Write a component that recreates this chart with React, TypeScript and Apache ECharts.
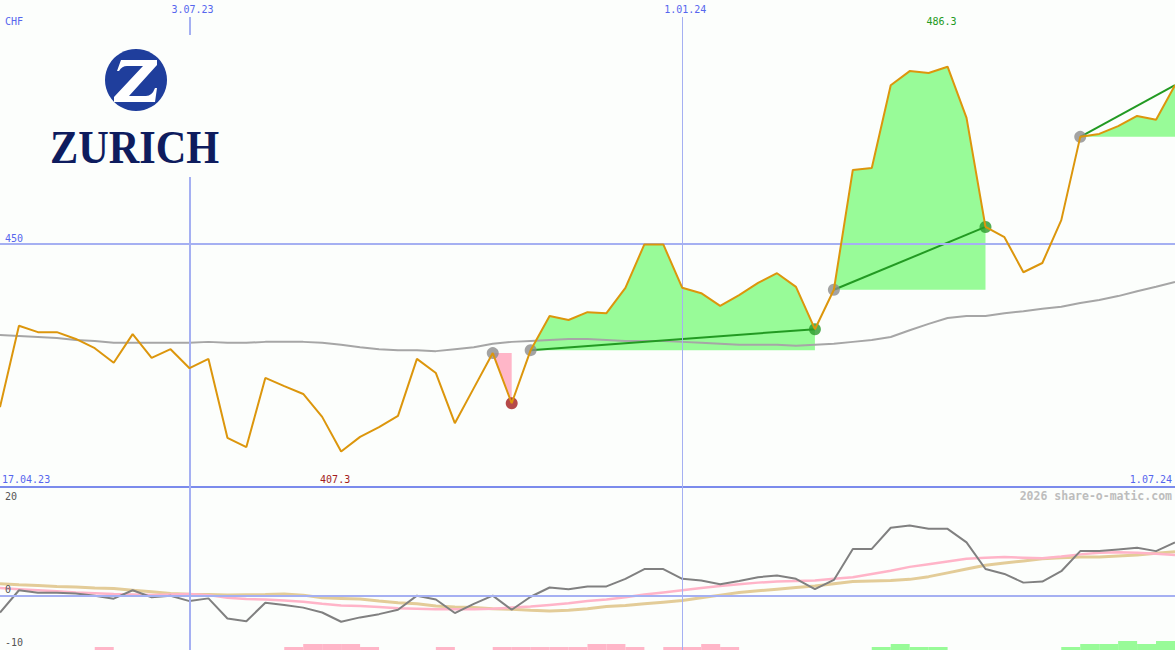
import React, { useEffect, useRef } from 'react';
import * as echarts from 'echarts';

// ---------- data ----------
const tickIndex = [10, 36];
const tickLabels = ['3.07.23', '1.01.24'];
const startLabel = '17.04.23';
const endLabel = '1.07.24';
const currency = 'CHF';
const priceLevel = 450;
const lowerTicks = [20, 0, -10];
const copyright = '2026 share-o-matic.com';

const price = [
  416.4, 433.1, 431.8, 431.8, 430.4, 428.5, 425.5, 431.4, 426.5, 428.3,
  424.4, 426.3, 410.1, 408.2, 422.4, 420.7, 419.1, 414.4, 407.3, 410.3,
  412.3, 414.6, 426.3, 423.4, 413.1, 420.3, 427.5, 417.2, 428.1, 435.1,
  434.3, 435.9, 435.7, 440.9, 449.8, 449.8, 440.9, 439.8, 437.2, 439.4,
  441.9, 443.9, 441.1, 432.4, 440.5, 465.1, 465.5, 482.5, 485.4, 485.0,
  486.3, 475.8, 453.4, 451.3, 444.1, 446.0, 454.8, 471.9, 472.5, 474.1,
  476.2, 475.4, 482.5,
];

const movingAvg = [
  431.2, 431.0, 430.8, 430.6, 430.2, 430.0, 429.6, 429.6, 429.6, 429.6,
  429.6, 429.8, 429.6, 429.6, 429.8, 429.8, 429.8, 429.6, 429.2, 428.7,
  428.3, 428.1, 428.1, 427.9, 428.3, 428.7, 429.4, 429.8, 430.0, 430.2,
  430.4, 430.4, 430.2, 430.0, 430.0, 430.0, 429.8, 429.6, 429.4, 429.2,
  429.2, 429.2, 429.0, 429.2, 429.4, 429.8, 430.2, 430.8, 432.2, 433.5,
  434.7, 435.1, 435.1, 435.7, 436.1, 436.6, 437.0, 437.8, 438.4, 439.2,
  440.2, 441.1, 442.1,
];

const momentum = [
  -3.1, 1.0, 0.55, 0.55, 0.4, 0.0, -0.55, 1.0, -0.3, 0.0,
  -1.0, -0.5, -4.2, -4.7, -1.3, -1.7, -2.2, -3.1, -4.8, -4.0,
  -3.4, -2.6, 0.0, -0.7, -3.2, -1.5, 0.0, -2.6, -0.2, 1.5,
  1.2, 1.7, 1.7, 3.1, 4.9, 4.9, 3.1, 2.8, 2.1, 2.7,
  3.4, 3.7, 3.1, 1.2, 2.9, 8.6, 8.6, 12.5, 12.9, 12.3,
  12.3, 9.8, 4.9, 4.0, 2.4, 2.6, 4.5, 8.2, 8.2, 8.5,
  8.8, 8.2, 9.8,
];

const signalLine = [
  1.4, 1.2, 1.0, 0.8, 0.6, 0.45, 0.3, 0.2, 0.1, 0.2,
  0.3, 0.1, -0.4, -0.6, -0.7, -0.9, -1.1, -1.5, -1.8, -1.9,
  -2.1, -2.3, -2.4, -2.5, -2.5, -2.5, -2.4, -2.2, -2.0, -1.7,
  -1.4, -1.0, -0.7, -0.3, 0.2, 0.6, 1.0, 1.4, 1.8, 2.1,
  2.4, 2.6, 2.7, 2.8, 3.1, 3.4, 4.0, 4.6, 5.3, 5.8,
  6.3, 6.8, 7.0, 7.1, 7.0, 6.9, 7.2, 7.6, 7.9, 8.0,
  7.9, 7.7, 7.5,
];

const slowLine = [
  2.2, 2.0, 1.85, 1.7, 1.6, 1.4, 1.3, 1.0, 0.7, 0.4,
  0.25, 0.2, 0.1, 0.15, 0.2, 0.3, 0.1, -0.4, -0.5, -0.6,
  -1.0, -1.3, -1.5, -1.9, -2.1, -2.2, -2.4, -2.5, -2.7, -2.8,
  -2.7, -2.4, -2.0, -1.8, -1.5, -1.2, -0.9, -0.4, 0.1, 0.6,
  0.9, 1.2, 1.5, 1.8, 2.2, 2.6, 2.7, 2.8, 3.0, 3.5,
  4.2, 4.9, 5.6, 6.0, 6.4, 6.8, 7.0, 7.1, 7.1, 7.3,
  7.5, 7.8, 8.1,
];

// histogram levels per weekly interval (negative = pink, positive = green)
const histogram = [
  0, 0, 0, 0, 0, -1, 0, 0, 0, 0,
  0, 0, 0, 0, 0, -1, -2, -2, -2, -1,
  0, 0, 0, -1, 0, 0, -1, -1, -1, -1,
  -1, -2, -2, -1, 0, -1, -1, -2, -1, 0,
  0, 0, 0, 0, 0, 0, 1, 2, 1, 1,
  0, 0, 0, 0, 0, 0, 1, 2, 2, 3,
  2, 3, 0,
];

const signalStart = [26, 28, 44, 57];
const signalEnd = [27, 43, 52, 62];
const signalKind = ['sell', 'buy', 'buy', 'buy'];
const signalClosed = [true, true, true, false];

// ---------- styles ----------
const BG = '#fcfefc';
const GRID = '#a5b0f2';
const AXIS = '#7b8bec';
const LABEL_BLUE = '#5666ee';
const ORANGE = '#dc960c';
const MA_GRAY = '#a6a6a6';
const GREEN_FILL = '#98fb98';
const PINK_FILL = '#ffb6c8';
const GREEN_LINE = '#229a22';
const DOT_GRAY = '#8c8c8c';
const DOT_RED = '#a31c1c';
const DOT_GREEN = '#2a9a2a';
const MONO = 'DejaVu Sans Mono';

const zPath =
  'M 7 0 L 43 0 L 43 5 L 15 36 L 32 36 Q 38 36 41 28 L 43 28 L 41 42 L 0 42 L 0 37 L 29 6 L 13 6 Q 8 6 5 11 L 3 11 Z';
echarts.graphic.registerShape('zlogo', echarts.graphic.extendPath(zPath, {}) as any);

export default function App() {
  const ref = useRef<HTMLDivElement>(null);

  useEffect(() => {
    document.body.style.margin = '0';
    const chart = echarts.init(ref.current!, null, { renderer: 'svg' });
    const N = price.length;
    const series: any[] = [];

    // grid lines (main)
    series.push({
      type: 'line', xAxisIndex: 0, yAxisIndex: 0, data: [], z: 1, silent: true,
      markLine: {
        silent: true, symbol: ['none', 'none'], label: { show: false },
        lineStyle: { type: 'solid', color: GRID, width: 2 },
        data: [
          { yAxis: priceLevel, lineStyle: { color: GRID, width: 2, type: 'solid' } },
          [{ coord: [tickIndex[0], 496.5], lineStyle: { color: GRID, width: 2, type: 'solid' } }, { coord: [tickIndex[0], 400] }],
          [{ coord: [tickIndex[1], 496.5], lineStyle: { color: GRID, width: 1, type: 'solid' } }, { coord: [tickIndex[1], 400] }],
        ],
      },
    });
    // grid lines (lower)
    series.push({
      type: 'line', xAxisIndex: 1, yAxisIndex: 1, data: [], z: 1, silent: true,
      markLine: {
        silent: true, symbol: ['none', 'none'], label: { show: false },
        lineStyle: { type: 'solid', color: GRID, width: 2 },
        data: [
          { yAxis: 0, lineStyle: { color: GRID, width: 2, type: 'solid' } },
          { xAxis: tickIndex[0], lineStyle: { color: GRID, width: 2, type: 'solid' } },
          { xAxis: tickIndex[1], lineStyle: { color: GRID, width: 1, type: 'solid' } },
        ],
      },
    });

    // signal fills: area between price and the price at signal start
    signalStart.forEach((s, k) => {
      const e = signalEnd[k];
      const base = price[s];
      const buy = signalKind[k] === 'buy';
      const seg: number[][] = [];
      for (let i = s; i <= e; i++) seg.push([i, price[i]]);
      series.push({
        type: 'line', xAxisIndex: 0, yAxisIndex: 0, data: seg,
        symbol: 'none', lineStyle: { width: 0, opacity: 0 }, z: 2, silent: true,
        areaStyle: { color: buy ? GREEN_FILL : PINK_FILL, opacity: 1, origin: base },
      });
    });

    // moving average
    series.push({
      type: 'line', xAxisIndex: 0, yAxisIndex: 0, z: 3, silent: true,
      data: movingAvg.map((v, i) => [i, v]), symbol: 'none',
      lineStyle: { color: MA_GRAY, width: 2 },
    });

    // trend lines for buy signals
    signalStart.forEach((s, k) => {
      if (signalKind[k] !== 'buy') return;
      const e = signalEnd[k];
      series.push({
        type: 'line', xAxisIndex: 0, yAxisIndex: 0, z: 4, silent: true,
        data: [[s, price[s]], [e, price[e]]], symbol: 'none',
        lineStyle: { color: GREEN_LINE, width: 2 },
      });
    });

    // dots
    const dots: any[] = [];
    signalStart.forEach((s, k) => {
      dots.push({ value: [s, price[s]], itemStyle: { color: DOT_GRAY } });
      if (signalClosed[k]) {
        const e = signalEnd[k];
        dots.push({ value: [e, price[e]], itemStyle: { color: signalKind[k] === 'buy' ? DOT_GREEN : DOT_RED } });
      }
    });
    series.push({
      type: 'scatter', xAxisIndex: 0, yAxisIndex: 0, z: 5, silent: true,
      symbolSize: 12, data: dots,
    });

    // price
    series.push({
      type: 'line', xAxisIndex: 0, yAxisIndex: 0, z: 6, silent: true,
      data: price.map((v, i) => [i, v]), symbol: 'none',
      lineStyle: { color: ORANGE, width: 2 },
    });

    // lower panel
    series.push({
      type: 'bar', xAxisIndex: 1, yAxisIndex: 2, z: 2, silent: true, barWidth: 19,
      data: histogram
        .map((h, k) => ({ h, k }))
        .filter((d) => d.h !== 0)
        .map((d) => ({ value: [d.k + 0.5, Math.abs(d.h)], itemStyle: { color: d.h > 0 ? GREEN_FILL : PINK_FILL } })),
    });
    series.push({
      type: 'line', xAxisIndex: 1, yAxisIndex: 1, z: 3, silent: true,
      data: slowLine.map((v, i) => [i, v]), symbol: 'none',
      lineStyle: { color: '#e3cc98', width: 3 },
    });
    series.push({
      type: 'line', xAxisIndex: 1, yAxisIndex: 1, z: 3, silent: true,
      data: signalLine.map((v, i) => [i, v]), symbol: 'none',
      lineStyle: { color: '#ffb4c8', width: 2.5 },
    });
    series.push({
      type: 'line', xAxisIndex: 1, yAxisIndex: 1, z: 4, silent: true,
      data: momentum.map((v, i) => [i, v]), symbol: 'none',
      lineStyle: { color: '#808080', width: 2 },
    });

    chart.setOption({
      animation: false,
      backgroundColor: BG,
      grid: [
        { left: 0, right: 0, top: 0, height: 487 },
        { left: 0, right: 0, top: 487, height: 163 },
      ],
      xAxis: [
        {
          type: 'value', gridIndex: 0, min: 0, max: N - 1,
          axisLine: { show: true, onZero: false, lineStyle: { color: AXIS, width: 2 } },
          axisTick: { show: false }, axisLabel: { show: false }, splitLine: { show: false },
        },
        {
          type: 'value', gridIndex: 1, min: 0, max: N - 1, show: false,
          splitLine: { show: false },
        },
      ],
      yAxis: [
        { type: 'value', gridIndex: 0, min: 400, max: 500, show: false, splitLine: { show: false } },
        { type: 'value', gridIndex: 1, min: -10, max: 20, show: false, splitLine: { show: false } },
        { type: 'value', gridIndex: 1, min: 0, max: 163 / 3, show: false, splitLine: { show: false } },
      ],
      series,
    });

    // labels
    const px = (i: number) => chart.convertToPixel({ xAxisIndex: 0 }, i) as number;
    const pyMain = (v: number) => chart.convertToPixel({ yAxisIndex: 0 }, v) as number;
    const pyLow = (v: number) => chart.convertToPixel({ yAxisIndex: 1 }, v) as number;
    const maxV = Math.max(...price);
    const minV = Math.min(...price);
    const maxI = price.indexOf(maxV);
    const minI = price.indexOf(minV);
    const txt = (x: number, y: number, text: string, fill: string, align = 'left', extra: any = {}) => ({
      type: 'text', x, y, z: 20, silent: true,
      style: { text, fill, font: `10px "${MONO}"`, align, verticalAlign: 'middle', ...extra },
    });
    const lowY = [pyLow(lowerTicks[0]) + 9, pyLow(lowerTicks[1]) - 6.5, pyLow(lowerTicks[2]) - 8];

    const graphic: any[] = [
      { type: 'rect', z: 15, silent: true, shape: { x: 40, y: 35, width: 190, height: 142 }, style: { fill: BG } },
      { type: 'circle', z: 16, silent: true, shape: { cx: 136, cy: 80, r: 31 }, style: { fill: '#1f3e9c' } },
      { type: 'zlogo', z: 17, silent: true, x: 114, y: 60, style: { fill: '#ffffff' } },
      {
        type: 'text', z: 16, silent: true, x: 50, y: 147, scaleX: 0.9,
        style: { text: 'ZURICH', fill: '#0e1c5e', font: 'bold 47px "Liberation Serif"', align: 'left', verticalAlign: 'middle' },
      },
      txt(5, 21, currency, LABEL_BLUE),
      txt(px(tickIndex[0]) + 3, 9, tickLabels[0], LABEL_BLUE, 'center'),
      txt(px(tickIndex[1]) + 3, 9, tickLabels[1], LABEL_BLUE, 'center'),
      txt(px(maxI) - 6, 21, maxV.toFixed(1), '#229a22', 'center'),
      txt(5, pyMain(priceLevel) - 5, String(priceLevel), LABEL_BLUE),
      txt(2, 479, startLabel, LABEL_BLUE),
      txt(px(minI) - 6, 479, minV.toFixed(1), DOT_RED, 'center'),
      txt(1172, 479, endLabel, LABEL_BLUE, 'right'),
      {
        type: 'text', x: 1172, y: 496, z: 20, silent: true,
        style: { text: copyright, fill: '#bdbdbd', font: `bold 11.5px "${MONO}"`, align: 'right', verticalAlign: 'middle' },
      },
      txt(5, lowY[0], String(lowerTicks[0]), '#555555'),
      txt(5, lowY[1], String(lowerTicks[1]), '#555555'),
      txt(5, lowY[2], String(lowerTicks[2]), '#555555'),
    ];
    chart.setOption({ graphic });

    return () => chart.dispose();
  }, []);

  return (
    <div
      ref={ref}
      style={{ position: 'fixed', left: 0, top: 0, width: 1175, height: 650 }}
    />
  );
}
